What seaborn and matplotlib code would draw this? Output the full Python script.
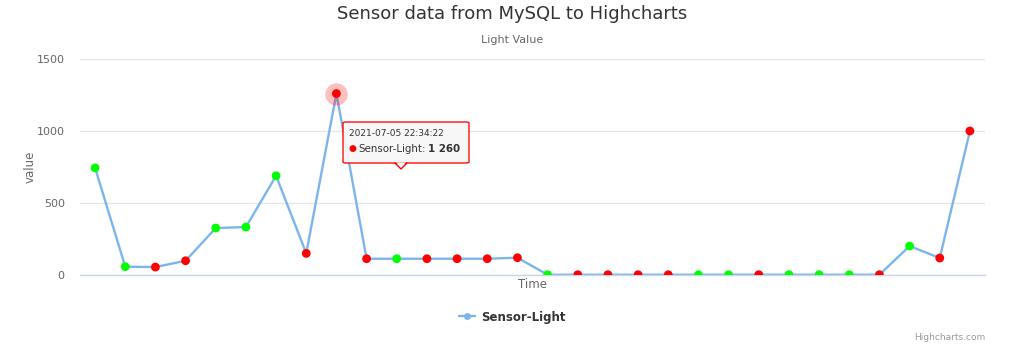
import matplotlib
matplotlib.use("Agg")
import matplotlib.pyplot as plt
import seaborn as sns
import pandas as pd
from matplotlib.lines import Line2D
from matplotlib.patches import FancyBboxPatch, Polygon

# values
light_values = [744, 58, 55, 99, 326, 333, 689, 150, 1260, 113,
                113, 113, 113, 113, 120, 2, 2, 2, 2, 2,
                2, 2, 2, 2, 2, 2, 2, 201, 118, 1000]
point_colors = ["green", "green", "red", "red", "green", "green", "green", "red", "red", "red",
                "green", "red", "red", "red", "red", "green", "red", "red", "red", "red",
                "green", "green", "red", "green", "green", "green", "red", "green", "red", "red"]
y_ticks = [0, 500, 1000, 1500]

df = pd.DataFrame({"idx": range(len(light_values)), "value": light_values, "state": point_colors})

sns.set_style("white")
plt.rcParams["font.family"] = ["DejaVu Sans"]

fig = plt.figure(figsize=(10.24, 3.63), dpi=100)
ax = fig.add_axes([80 / 1024, 1 - 275 / 363, 905 / 1024, 216 / 363])

sns.lineplot(data=df, x="idx", y="value", color="#7cb5ec", linewidth=1.7, ax=ax, zorder=2)
# hover halo on the max point
peak = df.loc[df["value"].idxmax()]
ax.scatter([peak["idx"]], [peak["value"]], s=260, color="red", alpha=0.25, linewidth=0, zorder=3)
sns.scatterplot(data=df, x="idx", y="value", hue="state",
                palette={"green": "#00ff00", "red": "#ff0000"},
                s=40, linewidth=0, legend=False, ax=ax, zorder=4)

ax.set_xlim(-0.5, len(light_values) - 0.5)
ax.set_ylim(0, 1500)
ax.set_yticks(y_ticks)
ax.set_yticklabels([str(t) for t in y_ticks], color="#666666", fontsize=8)
ax.set_xticks([])
ax.yaxis.grid(True, color="#e6e6e6", linewidth=1)
ax.tick_params(axis="y", length=0, pad=11)
for s in ["top", "right", "left"]:
    ax.spines[s].set_visible(False)
ax.spines["bottom"].set_color("#ccd6eb")
ax.spines["bottom"].set_linewidth(1)
ax.set_ylabel("value", color="#666666", fontsize=8.5)
ax.yaxis.set_label_coords((37 - 80) / 905, 0.5)
ax.set_xlabel("Time", color="#666666", fontsize=8.5, labelpad=2)

fig.text(0.5, 1 - 14 / 363, "Sensor data from MySQL to Highcharts", ha="center", va="center",
         fontsize=13, color="#333333")
fig.text(0.5, 1 - 40 / 363, "Light Value", ha="center", va="center", fontsize=8, color="#666666")

# legend
handle = Line2D([0], [0], color="#7cb5ec", linewidth=1.7, marker="o", markersize=5,
                markerfacecolor="#7cb5ec", markeredgewidth=0)
fig.legend([handle], ["Sensor-Light"], loc="center", bbox_to_anchor=(0.5, 1 - 317 / 363),
           frameon=False, prop={"weight": "bold", "size": 8.5}, handlelength=1.4, handletextpad=0.5,
           labelcolor="#333333")

fig.text(985 / 1024, 1 - 337 / 363, "Highcharts.com", ha="right", va="center", fontsize=6.5, color="#999999")

# tooltip
x0, y0, x1, y1 = 343 / 1024, 1 - 163 / 363, 469 / 1024, 1 - 122 / 363
box = FancyBboxPatch((x0, y0), x1 - x0, y1 - y0, boxstyle="round,pad=0,rounding_size=0.003",
                     transform=fig.transFigure, facecolor="#f7f7f7", edgecolor="#ff0000",
                     linewidth=1, alpha=0.95, zorder=10)
fig.patches.append(box)
tri = Polygon([(395 / 1024, y0), (407 / 1024, y0), (401 / 1024, 1 - 169 / 363)], closed=True,
              transform=fig.transFigure, facecolor="#f7f7f7", edgecolor="#ff0000", linewidth=1, zorder=10)
fig.patches.append(tri)
cover = Polygon([(396 / 1024, y0 + 0.002), (406 / 1024, y0 + 0.002), (401 / 1024, 1 - 167 / 363)],
                closed=True, transform=fig.transFigure, facecolor="#f7f7f7", edgecolor="none", zorder=11)
fig.patches.append(cover)
fig.text(349 / 1024, 1 - 133 / 363, "2021-07-05 22:34:22", fontsize=6.5, color="#333333", va="center", zorder=12)
fig.text(352 / 1024, 1 - 149 / 363, "\u25cf", fontsize=6.5, color="#ff0000", va="center", ha="center", zorder=12)
lab = fig.text(358 / 1024, 1 - 149 / 363, "Sensor-Light:", fontsize=7.4, color="#333333", va="center", zorder=12)
fig.canvas.draw()
bb = lab.get_window_extent()
fig.text((bb.x1 + 3) / fig.bbox.width, 1 - 149 / 363, "1 260", fontsize=7.4, color="#333333", va="center",
         fontweight="bold", zorder=12)

plt.savefig("out.png", dpi=100)
plt.close()
